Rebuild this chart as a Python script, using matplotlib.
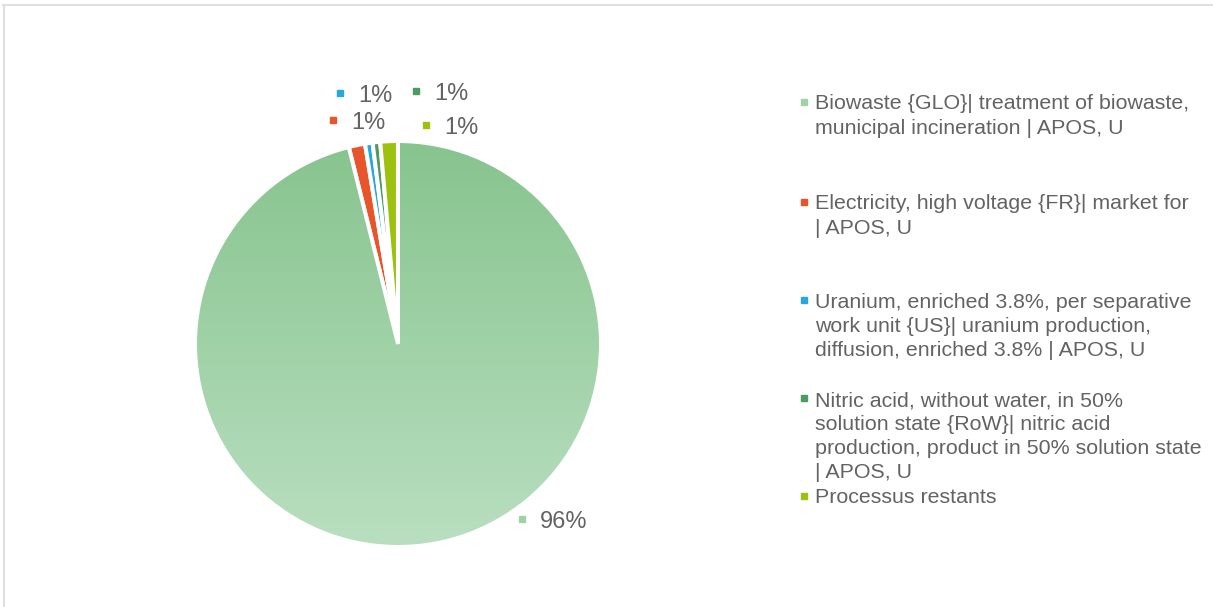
import numpy as np
import matplotlib
matplotlib.use("Agg")
import matplotlib.pyplot as plt
from matplotlib.lines import Line2D
from matplotlib.patches import PathPatch
from matplotlib.colors import LinearSegmentedColormap

plt.rcParams['font.family'] = ['Liberation Sans', 'DejaVu Sans']

labels = [
    "Biowaste {GLO}| treatment of biowaste,\nmunicipal incineration | APOS, U",
    "Electricity, high voltage {FR}| market for\n| APOS, U",
    "Uranium, enriched 3.8%, per separative\nwork unit {US}| uranium production,\ndiffusion, enriched 3.8% | APOS, U",
    "Nitric acid, without water, in 50%\nsolution state {RoW}| nitric acid\nproduction, product in 50% solution state\n| APOS, U",
    "Processus restants",
]
values = [96.1, 1.3, 0.6, 0.6, 1.4]
colors = ["#9fd3a6", "#e8552a", "#27a7e1", "#4f9a5f", "#9cc20f"]

W, H = 1213, 607
fig = plt.figure(figsize=(W / 100, H / 100), dpi=100)

def fx(x):
    return x / W

def fy(y):
    return 1 - y / H

TEXT = "#636363"

# pie axes
cx, cy, r = 398, 344, 203
ax = fig.add_axes([fx(cx - r), fy(cy + r), 2 * r / W, 2 * r / H])
wedges, _ = ax.pie(values, colors=colors, startangle=90, counterclock=False,
                   radius=1, wedgeprops=dict(edgecolor="white", linewidth=2.9))

# gradient fill for the main slice
cmap = LinearSegmentedColormap.from_list("g", ["#b9dfc0", "#87c48e"])
grad = np.linspace(0, 1, 256).reshape(-1, 1)
im = ax.imshow(grad, cmap=cmap, extent=[-1, 1, -1, 1], origin="lower",
               aspect="auto", zorder=wedges[0].get_zorder() + 0.1)
im.set_clip_path(wedges[0])
# redraw white edge of main slice on top of gradient
edge = PathPatch(wedges[0].get_path(), fill=False, edgecolor="white",
                 linewidth=2.9, transform=wedges[0].get_transform(),
                 zorder=wedges[0].get_zorder() + 0.2)
ax.add_patch(edge)
ax.set_xlim(-1, 1)
ax.set_ylim(-1, 1)
ax.set_aspect("equal")
ax.axis("off")

# data labels (legend-key squares + percentage)
label_pos = [(522, 519), (333, 120), (340, 93), (416, 91), (426, 125)]
for v, c, (mx, my) in zip(values, colors, label_pos):
    fig.add_artist(Line2D([fx(mx)], [fy(my)], marker="s", markersize=5,
                          color=c, markeredgecolor=c, transform=fig.transFigure))
    fig.text(fx(mx + 18), fy(my + 9), f"{v:.0f}%", fontsize=17, color=TEXT,
             ha="left", va="baseline")

# legend
LS = 24.5
legend_base = [109, 209, 307, 405, 503]
for lab, c, ly in zip(labels, colors, legend_base):
    n = lab.count("\n")
    fig.add_artist(Line2D([fx(804)], [fy(ly - 7)], marker="s", markersize=3.8,
                          color=c, markeredgecolor=c, transform=fig.transFigure))
    fig.text(fx(815), fy(ly + n * LS), lab, fontsize=15.4, color=TEXT,
             ha="left", va="baseline", linespacing=1.34)

# chart frame (partially visible)
fig.add_artist(Line2D([fx(3), fx(W)], [fy(4.5), fy(4.5)], color="#d9d9d9",
                      lw=1.2, transform=fig.transFigure))
fig.add_artist(Line2D([fx(3.5), fx(3.5)], [fy(4.5), 0], color="#d9d9d9",
                      lw=1.2, transform=fig.transFigure))

fig.savefig("out.png", dpi=100)
